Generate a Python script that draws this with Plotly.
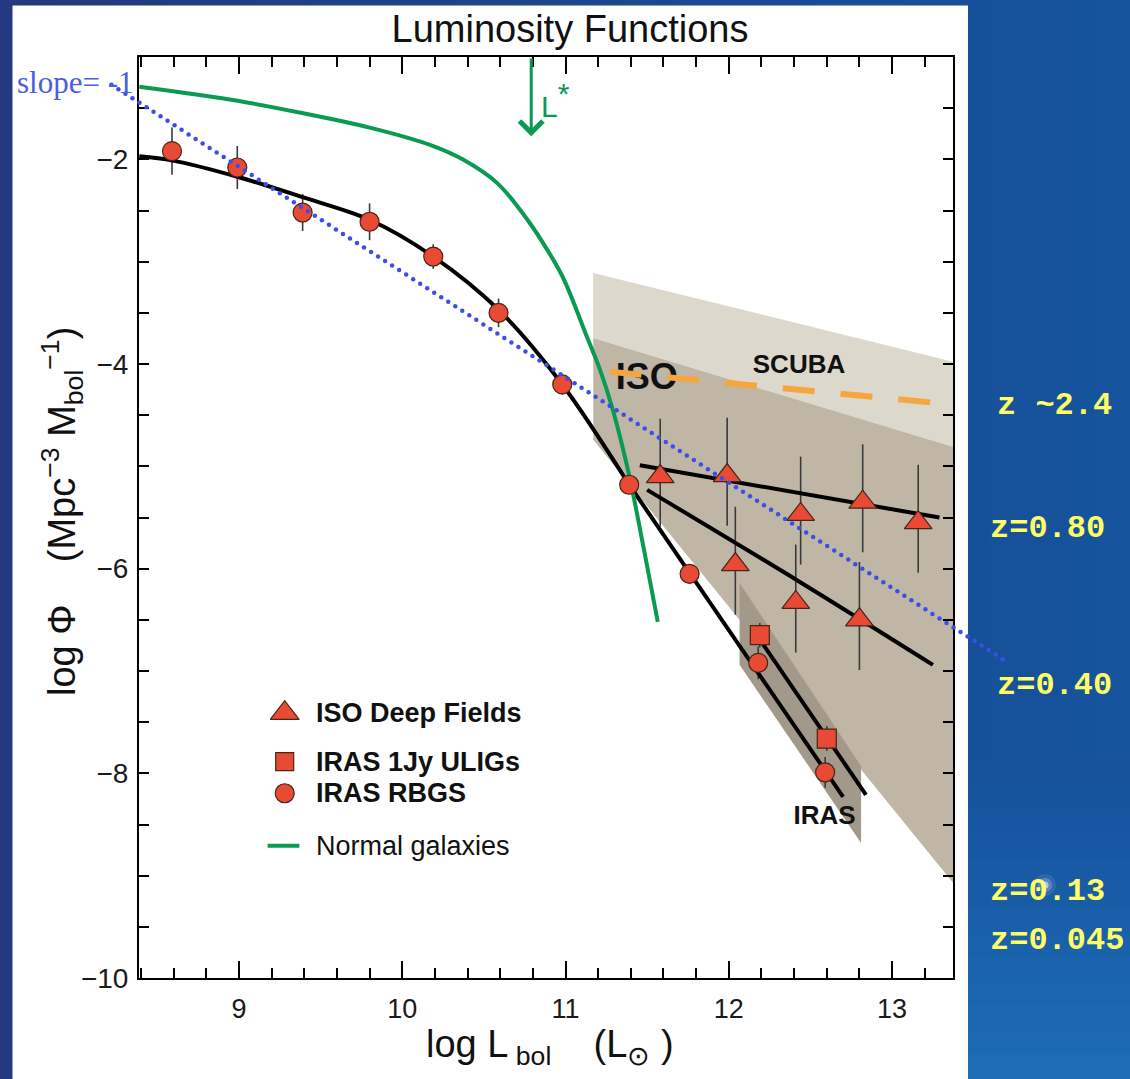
import numpy as np
import plotly.graph_objects as go

# ---------------------------------------------------------------- data
# IRAS Revised Bright Galaxy Sample (circles)
rbgs_logL = [8.59, 8.99, 9.39, 9.80, 10.19, 10.59, 10.98, 11.39, 11.76, 12.18, 12.59]
rbgs_logphi = [-1.92, -2.08, -2.52, -2.61, -2.95, -3.50, -4.20, -5.18, -6.05, -6.92, -7.99]
rbgs_err = [0.23, 0.21, 0.18, 0.18, 0.12, 0.14, 0.10, 0.08, 0.08, 0.16, 0.15]

# IRAS 1Jy ULIGs (squares)
ulig_logL = [12.19, 12.60]
ulig_logphi = [-6.65, -7.66]
ulig_err = [0.12, 0.12]

# ISO deep fields (triangles), z~0.8 and z~0.4 samples
iso_hi_logL = [11.58, 11.99, 12.44, 12.82, 13.16]
iso_hi_logphi = [-5.10, -5.09, -5.47, -5.35, -5.55]
iso_lo_logL = [12.04, 12.41, 12.80]
iso_lo_logphi = [-5.96, -6.33, -6.50]
iso_err_up = 0.565
iso_err_down = 0.49

# fitted luminosity functions: curved part and straight high-L tail of the local fit
rbgs_fit_x = [8.39, 8.59, 8.99, 9.39, 9.80, 10.19, 10.59, 10.98, 11.39]
rbgs_fit_y = [-1.97, -2.01, -2.17, -2.37, -2.59, -2.95, -3.47, -4.20, -5.18]
rbgs_tail_x = [11.39, 12.70]
rbgs_tail_y = [-5.18, -8.23]
ulig_fit_x = [12.21, 12.84]
ulig_fit_y = [-6.74, -8.21]
iso_hi_fit_x = [11.455, 13.29]
iso_hi_fit_y = [-4.99, -5.50]
iso_lo_fit_x = [11.50, 12.43, 13.25]
iso_lo_fit_y = [-5.23, -6.125, -6.94]

# luminosity function of normal galaxies
normal_x = [8.39, 9.00, 9.80, 10.19, 10.37, 10.58, 10.78, 10.98, 11.13, 11.21, 11.29, 11.39, 11.48, 11.565]
normal_y = [-1.29, -1.43, -1.69, -1.87, -2.00, -2.23, -2.62, -3.14, -3.73, -4.05, -4.45, -5.09, -5.81, -6.52]
L_STAR = 10.79

# SCUBA estimate (dashed)
scuba_x = [11.27, 13.234]
scuba_y = [-4.076, -4.375]

# shaded allowed regions
scuba_region_x = [11.17, 13.5, 13.5, 11.17]
scuba_region_y = [-3.11, -4.028, -4.871, -3.746]
iso_region_x = [11.17, 13.5, 13.5, 11.17]
iso_region_y = [-3.746, -4.871, -9.32, -4.74]
iras_region_x = [12.066, 12.81, 12.81, 12.066]
iras_region_y = [-6.14, -7.93, -8.68, -6.94]

# reference power law of slope -1 (end points)
slope_x = [8.219, 13.677]
slope_y = [-1.270, -6.884]

# redshift tags
z_labels = ["z ~2.4", "z=0.80", "z=0.40", "z=0.13", "z=0.045"]

X_RANGE = [8.388, 13.373]
Y_RANGE = [-10, -1]

# ---------------------------------------------------------------- style
W, H = 1130, 1079
PL, PR, PT, PB = 139, 953, 57, 978          # plot frame edges in pixels
SANS = "Liberation Sans, Arial, Helvetica, sans-serif"
RED = "#e84a34"
EDGE = "#4a2418"
GREEN = "#0a9a52"
BAR = "#3a3a3a"


def paper(px, py):
    return px / W, 1 - py / H


# a full-page axis pair with the same scale as the main frame, so the
# dotted guide can run past the frame edges
ppu_x = (PR - PL) / (X_RANGE[1] - X_RANGE[0])
ppu_y = (PB - PT) / (Y_RANGE[1] - Y_RANGE[0])
X_PAGE = [X_RANGE[0] - PL / ppu_x, X_RANGE[1] + (W - PR) / ppu_x]
Y_PAGE = [Y_RANGE[0] - (H - PB) / ppu_y, Y_RANGE[1] + PT / ppu_y]

fig = go.Figure()

# shaded regions
fig.add_trace(go.Scatter(x=scuba_region_x, y=scuba_region_y, fill="toself", mode="none",
                         fillcolor="#dcd8cb", hoverinfo="skip", showlegend=False))
fig.add_trace(go.Scatter(x=iso_region_x, y=iso_region_y, fill="toself", mode="none",
                         fillcolor="#bfb6a6", hoverinfo="skip", showlegend=False))
fig.add_trace(go.Scatter(x=iras_region_x, y=iras_region_y, fill="toself", mode="none",
                         fillcolor="#a2998a", hoverinfo="skip", showlegend=False))

# region labels (ISO sits beneath the SCUBA dashes)
fig.add_trace(go.Scatter(x=[11.497], y=[-4.153], mode="text", text=["<b>ISO</b>"],
                         textfont=dict(family=SANS, size=36, color="#111"), showlegend=False))
fig.add_trace(go.Scatter(x=[12.43, 12.587], y=[-4.02, -8.435], mode="text",
                         text=["<b>SCUBA</b>", "<b>IRAS</b>"],
                         textfont=dict(family=SANS, size=26, color="#111"), showlegend=False))

# error bars, drawn under the fit lines
hidden = dict(size=1, color="rgba(0,0,0,0)")
fig.add_trace(go.Scatter(x=rbgs_logL, y=rbgs_logphi, mode="markers", marker=hidden,
                         error_y=dict(type="data", array=rbgs_err, color=BAR, thickness=1.6, width=0),
                         showlegend=False))
fig.add_trace(go.Scatter(x=ulig_logL, y=ulig_logphi, mode="markers", marker=hidden,
                         error_y=dict(type="data", array=ulig_err, color=BAR, thickness=1.6, width=0),
                         showlegend=False))
iso_all_x = iso_hi_logL + iso_lo_logL
iso_all_y = iso_hi_logphi + iso_lo_logphi
fig.add_trace(go.Scatter(x=iso_all_x, y=iso_all_y, mode="markers", marker=hidden,
                         error_y=dict(type="constant", symmetric=False, value=iso_err_up,
                                      valueminus=iso_err_down, color=BAR, thickness=1.6, width=0),
                         showlegend=False))

# fit lines
for fx, fy, shape in [(rbgs_fit_x, rbgs_fit_y, "spline"), (rbgs_tail_x, rbgs_tail_y, "linear"),
                      (ulig_fit_x, ulig_fit_y, "linear"), (iso_hi_fit_x, iso_hi_fit_y, "linear"),
                      (iso_lo_fit_x, iso_lo_fit_y, "spline")]:
    fig.add_trace(go.Scatter(x=fx, y=fy, mode="lines",
                             line=dict(color="black", width=4, shape=shape, smoothing=0.9),
                             showlegend=False))

# normal galaxies
fig.add_trace(go.Scatter(x=normal_x, y=normal_y, mode="lines",
                         line=dict(color=GREEN, width=4, shape="spline", smoothing=0.8),
                         showlegend=False))

# SCUBA dashed estimate
fig.add_trace(go.Scatter(x=scuba_x, y=scuba_y, mode="lines",
                         line=dict(color="#f7a53e", width=6, dash="32px,26px"), showlegend=False))

# data points
mk = dict(color=RED, line=dict(color=EDGE, width=1.2))
fig.add_trace(go.Scatter(x=iso_all_x, y=iso_all_y, mode="markers",
                         marker=dict(symbol="triangle-up", size=24, **mk), showlegend=False))
fig.add_trace(go.Scatter(x=ulig_logL, y=ulig_logphi, mode="markers",
                         marker=dict(symbol="square", size=19, **mk), showlegend=False))
fig.add_trace(go.Scatter(x=rbgs_logL, y=rbgs_logphi, mode="markers",
                         marker=dict(symbol="circle", size=19, **mk), showlegend=False))

# hand-built legend on an overlay frame spanning the plot area
key_x = 0.179
key_y = {"tri": 0.2875, "sq": 0.2350, "circ": 0.2006, "line": 0.1437}
fig.add_trace(go.Scatter(x=[key_x], y=[key_y["tri"]], xaxis="x2", yaxis="y2", mode="markers",
                         marker=dict(symbol="triangle-up", size=25, **mk), showlegend=False))
fig.add_trace(go.Scatter(x=[key_x], y=[key_y["sq"]], xaxis="x2", yaxis="y2", mode="markers",
                         marker=dict(symbol="square", size=18, **mk), showlegend=False))
fig.add_trace(go.Scatter(x=[key_x], y=[key_y["circ"]], xaxis="x2", yaxis="y2", mode="markers",
                         marker=dict(symbol="circle", size=19, **mk), showlegend=False))
fig.add_trace(go.Scatter(x=[0.158, 0.197], y=[key_y["line"]] * 2, xaxis="x2", yaxis="y2",
                         mode="lines", line=dict(color=GREEN, width=4), showlegend=False))

# dotted slope -1 guide on the full-page axes
n_dots = 128
fig.add_trace(go.Scatter(x=np.linspace(slope_x[0], slope_x[1], n_dots),
                         y=np.linspace(slope_y[0], slope_y[1], n_dots),
                         xaxis="x3", yaxis="y3",
                         mode="markers", marker=dict(size=4.5, color="#3b4fe6"),
                         cliponaxis=False, showlegend=False))

annotations = []
legend_text = [("<b>ISO Deep Fields</b>", key_y["tri"]), ("<b>IRAS 1Jy ULIGs</b>", key_y["sq"]),
               ("<b>IRAS RBGS</b>", key_y["circ"]), ("Normal galaxies", key_y["line"])]
for txt, yy in legend_text:
    annotations.append(dict(xref="x2 domain", yref="y2 domain", x=0.2155, y=yy, xanchor="left",
                            yanchor="middle", text=txt, showarrow=False,
                            font=dict(family=SANS, size=27, color="#111")))

# L* arrow and label
annotations.append(dict(xref="x", yref="y", axref="x", ayref="y", x=L_STAR, y=-1.775,
                        ax=L_STAR, ay=-1.0, text="", showarrow=True, arrowhead=4,
                        arrowsize=1.5, arrowwidth=3, arrowcolor=GREEN))
annotations.append(dict(xref="x", yref="y", x=L_STAR + 0.045, y=-1.42, xanchor="left",
                        yanchor="middle",
                        text="L<sup><span style='font-size:30px'>*</span></sup>",
                        showarrow=False, font=dict(family=SANS, size=30, color=GREEN)))

# axis titles
ytx, yty = paper(62, 512)
annotations.append(dict(xref="paper", yref="paper", x=ytx, y=yty, xanchor="center",
                        yanchor="middle", textangle=-90, showarrow=False,
                        text="log \u03a6    (Mpc<sup>\u22123</sup> M<sub>bol</sub><sup>\u22121</sup>)",
                        font=dict(family=SANS, size=38, color="#111")))
xtx, xty = paper(424, 1047)
annotations.append(dict(xref="paper", yref="paper", x=xtx, y=xty, xanchor="left",
                        yanchor="middle", showarrow=False,
                        text="log L<sub> bol</sub>    (L<sub>\u2299</sub> )",
                        font=dict(family=SANS, size=38, color="#111")))

# slope label
sx, sy = paper(15, 83)
annotations.append(dict(xref="paper", yref="paper", x=sx, y=sy, xanchor="left", yanchor="middle",
                        text="slope= -1", showarrow=False,
                        font=dict(family="Liberation Serif, Times New Roman, serif", size=31,
                                  color="#4a5ee0")))

# redshift tags
z_pos = [(995, 405), (988, 528), (995, 685), (988, 891), (988, 940)]
for txt, (px, py) in zip(z_labels, z_pos):
    zx, zy = paper(px, py)
    annotations.append(dict(xref="paper", yref="paper", x=zx, y=zy, xanchor="left",
                            yanchor="middle", text="<b>" + txt + "</b>", showarrow=False,
                            font=dict(family="Liberation Mono, Courier New, monospace", size=32,
                                      color="#ffff66")))

# ---------------------------------------------------------------- background
shapes = []
n_strips = 40
c0 = np.array([36, 57, 127])
c1 = np.array([22, 84, 158])
edges = np.linspace(0, W, n_strips + 1)
for i in range(n_strips):
    t = i / (n_strips - 1)
    c = (1 - t) * c0 + t * c1
    x0, _ = paper(edges[i], 0)
    x1, _ = paper(edges[i + 1] + 1, 0)
    shapes.append(dict(type="rect", xref="paper", yref="paper", x0=x0, x1=x1, y0=-0.05, y1=1.05,
                       fillcolor="rgb(%d,%d,%d)" % tuple(c.astype(int)), line=dict(width=0),
                       layer="below"))
# lighter blue towards the lower right
base = np.array([23, 82, 156])
light = np.array([28, 108, 182])
bands = np.linspace(760, H, 14)
for i in range(len(bands) - 1):
    a = i / (len(bands) - 2)
    c = (1 - a) * base + a * light
    xa, ya = paper(968, bands[i])
    xb, yb = paper(W + 2, bands[i + 1] + 1.5)
    shapes.append(dict(type="rect", xref="paper", yref="paper", x0=xa, x1=xb, y0=yb, y1=ya,
                       fillcolor="rgb(%d,%d,%d)" % tuple(c.astype(int)), line=dict(width=0),
                       layer="below"))
# small glow
for r, a in [(11, 0.10), (7, 0.22), (3.5, 0.6)]:
    gx0, gy0 = paper(1045 - r, 885 + r)
    gx1, gy1 = paper(1045 + r, 885 - r)
    shapes.append(dict(type="circle", xref="paper", yref="paper", x0=gx0, x1=gx1, y0=gy0, y1=gy1,
                       fillcolor="rgba(240,244,255,%.2f)" % a, line=dict(width=0), layer="below"))
# white panel
wx0, wy0 = paper(12.5, 1090)
wx1, wy1 = paper(968, 5.5)
shapes.append(dict(type="rect", xref="paper", yref="paper", x0=wx0, x1=wx1, y0=wy0, y1=wy1,
                   fillcolor="white", line=dict(width=0), layer="below"))

# ---------------------------------------------------------------- axes
axis_common = dict(showline=True, linecolor="black", linewidth=2, mirror="ticks",
                   ticks="inside", tickcolor="black", tickwidth=2, showgrid=False,
                   zeroline=False)
x_dom = [PL / W, PR / W]
y_dom = [1 - PB / H, 1 - PT / H]

fig.update_layout(
    width=W, height=H,
    margin=dict(l=0, r=0, t=0, b=0, autoexpand=False),
    paper_bgcolor="rgb(28,70,142)",
    plot_bgcolor="rgba(0,0,0,0)",
    showlegend=False,
    title=dict(text="Luminosity Functions", x=570 / W, xref="paper", xanchor="center",
               y=1 - 29 / H, yref="container", yanchor="middle",
               font=dict(family=SANS, size=38, color="#111")),
    xaxis=dict(domain=x_dom, anchor="y", range=X_RANGE, tick0=0, dtick=1, ticklen=17,
               minor=dict(dtick=0.2, tick0=0, ticklen=10, ticks="inside", tickcolor="black",
                          tickwidth=2),
               ticklabelstandoff=6,
               tickfont=dict(family=SANS, size=27, color="#1a1a1a"),
               **axis_common),
    yaxis=dict(domain=y_dom, anchor="x", range=Y_RANGE, tick0=0, dtick=2, ticklen=10,
               minor=dict(dtick=0.5, tick0=0, ticklen=10, ticks="inside", tickcolor="black",
                          tickwidth=2),
               ticklabelstandoff=3,
               tickfont=dict(family=SANS, size=28, color="#1a1a1a"),
               **axis_common),
    xaxis2=dict(overlaying="x", anchor="y2", range=[0, 1], visible=False),
    yaxis2=dict(overlaying="y", anchor="x2", range=[0, 1], visible=False),
    xaxis3=dict(domain=[0, 1], anchor="y3", range=X_PAGE, visible=False),
    yaxis3=dict(domain=[0, 1], anchor="x3", range=Y_PAGE, visible=False),
    shapes=shapes,
    annotations=annotations,
)

fig.write_html("out.html")
